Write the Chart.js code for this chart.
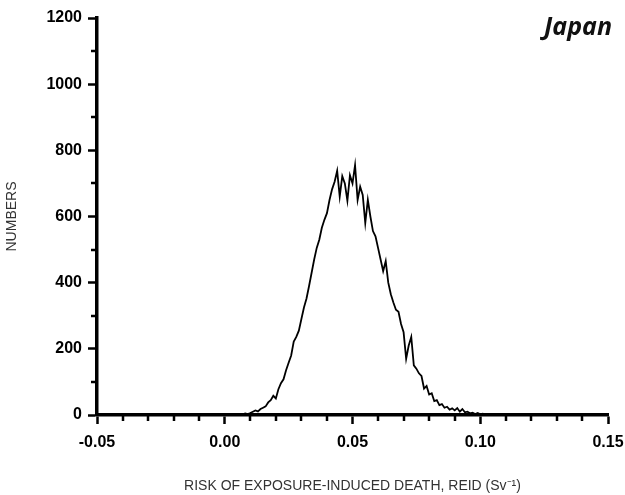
<!DOCTYPE html>
<html>
<head>
<meta charset="utf-8">
<script src="https://cdn.jsdelivr.net/npm/chart.js@4/dist/chart.umd.min.js"></script>
<style>
  html, body { margin: 0; padding: 0; background: #fff; }
  #wrap { width: 625px; height: 495px; }
</style>
</head>
<body>
<div id="wrap"><canvas id="chart1"></canvas></div>
<script>
// REID bins (Sv^-1) and counts
const reid = [
  0.003, 0.004, 0.005, 0.006, 0.007, 0.008, 0.009, 0.010, 0.011, 0.012,
  0.013, 0.014, 0.015, 0.016, 0.017, 0.018, 0.019, 0.020, 0.021, 0.022,
  0.023, 0.024, 0.025, 0.026, 0.027, 0.028, 0.029, 0.030, 0.031, 0.032,
  0.033, 0.034, 0.035, 0.036, 0.037, 0.038, 0.039, 0.040, 0.041, 0.042,
  0.043, 0.044, 0.045, 0.046, 0.047, 0.048, 0.049, 0.050, 0.051, 0.052,
  0.053, 0.054, 0.055, 0.056, 0.057, 0.058, 0.059, 0.060, 0.061, 0.062,
  0.063, 0.064, 0.065, 0.066, 0.067, 0.068, 0.069, 0.070, 0.071, 0.072,
  0.073, 0.074, 0.075, 0.076, 0.077, 0.078, 0.079, 0.080, 0.081, 0.082,
  0.083, 0.084, 0.085, 0.086, 0.087, 0.088, 0.089, 0.090, 0.091, 0.092,
  0.093, 0.094, 0.095, 0.096, 0.097, 0.098, 0.099, 0.100, 0.101, 0.102,
  0.103, 0.104, 0.105, 0.106
];
const counts = [
  0, 2, 0, 3, 2, 5, 3, 6, 10, 14,
  11, 18, 22, 26, 38, 45, 58, 50, 78, 96,
  108, 135, 158, 180, 222, 236, 255, 290, 325, 352,
  390, 430, 470, 505, 530, 566, 590, 610, 650, 682,
  705, 738, 660, 722, 700, 648, 725, 700, 755, 650,
  690, 665, 580, 650, 600, 556, 540, 505, 470, 435,
  465, 400, 365, 340, 318, 312, 275, 250, 170, 210,
  236, 150, 140, 126, 118, 80, 88, 62, 66, 42,
  45, 30, 33, 22, 25, 16, 20, 14, 21, 10,
  18, 8, 10, 5, 7, 3, 6, 2, 4, 1,
  3, 0, 1, 0
];
const xMajor = [-0.05, 0.00, 0.05, 0.10, 0.15];
const yMajor = [0, 200, 400, 600, 800, 1000, 1200];
const panelLabel = 'Japan';

const isMajor = (list, v) => list.some(t => Math.abs(t - v) < 1e-6);

const ctx = document.getElementById('chart1').getContext('2d');

// minor tick marks are shorter than the major ones, draw them here
const minorTicks = {
  id: 'minorTicks',
  afterDraw(chart) {
    const c = chart.ctx;
    const { x, y } = chart.scales;
    c.save();
    c.strokeStyle = '#000';
    c.lineWidth = 2.5;
    c.beginPath();
    x.ticks.forEach(t => {
      if (isMajor(xMajor, t.value)) return;
      const px = Math.round(x.getPixelForValue(t.value));
      c.moveTo(px, x.top);
      c.lineTo(px, x.top + 6);
    });
    y.ticks.forEach(t => {
      if (isMajor(yMajor, t.value)) return;
      const py = Math.round(y.getPixelForValue(t.value));
      c.moveTo(y.right, py);
      c.lineTo(y.right - 6, py);
    });
    c.stroke();

    c.font = 'italic bold 25px "Open Sans", "Liberation Sans", sans-serif';
    c.fillStyle = '#111';
    c.textAlign = 'right';
    c.textBaseline = 'middle';
    c.fillText(panelLabel, chart.chartArea.right + 4, 28);
    c.restore();
  }
};

const myChart = new Chart(ctx, {
  type: 'line',
  data: {
    datasets: [{
      data: reid.map((v, i) => ({ x: v, y: counts[i] })),
      borderColor: '#000',
      borderWidth: 1.8,
      pointRadius: 0,
      tension: 0,
      fill: false
    }]
  },
  options: {
    responsive: true,
    maintainAspectRatio: false,
    animation: false,
    layout: { padding: { top: 18, right: 17, left: 0, bottom: 0 } },
    plugins: { legend: { display: false }, tooltip: { enabled: false } },
    scales: {
      x: {
        type: 'linear',
        min: -0.05,
        max: 0.15,
        border: { color: '#000', width: 3.5 },
        grid: {
          drawOnChartArea: false,
          tickLength: 9,
          tickWidth: 2.5,
          tickColor: c => isMajor(xMajor, c.tick.value) ? '#000' : 'rgba(0,0,0,0)'
        },
        ticks: {
          stepSize: 0.01,
          autoSkip: false,
          maxRotation: 0,
          color: '#000',
          padding: 9,
          font: { family: '"Liberation Sans", Arial, sans-serif', size: 16, weight: 'bold' },
          callback: v => {
            const m = xMajor.find(t => Math.abs(t - v) < 1e-6);
            return m === undefined ? '' : m.toFixed(2);
          }
        },
        title: {
          display: true,
          text: 'RISK OF EXPOSURE-INDUCED DEATH, REID (Sv\u207B\u00B9)',
          color: '#333',
          font: { family: '"Liberation Sans", Arial, sans-serif', size: 14 },
          padding: { top: 0, bottom: 0 }
        },
        afterFit: s => { s.height = 80; s.paddingRight = 0; s.paddingLeft = 0; }
      },
      y: {
        min: 0,
        max: 1200,
        border: { color: '#000', width: 3.5 },
        grid: {
          drawOnChartArea: false,
          tickLength: 9,
          tickWidth: 2.5,
          tickColor: c => isMajor(yMajor, c.tick.value) ? '#000' : 'rgba(0,0,0,0)'
        },
        ticks: {
          stepSize: 100,
          autoSkip: false,
          color: '#000',
          padding: 6,
          font: { family: '"Liberation Sans", Arial, sans-serif', size: 16, weight: 'bold' },
          callback: v => isMajor(yMajor, v) ? String(v) : ''
        },
        title: {
          display: true,
          text: 'NUMBERS',
          color: '#333',
          font: { family: '"Liberation Sans", Arial, sans-serif', size: 14 },
          padding: { bottom: 20 }
        },
        afterFit: s => { s.width = 97; }
      }
    }
  },
  plugins: [minorTicks]
});
</script>
</body>
</html>
